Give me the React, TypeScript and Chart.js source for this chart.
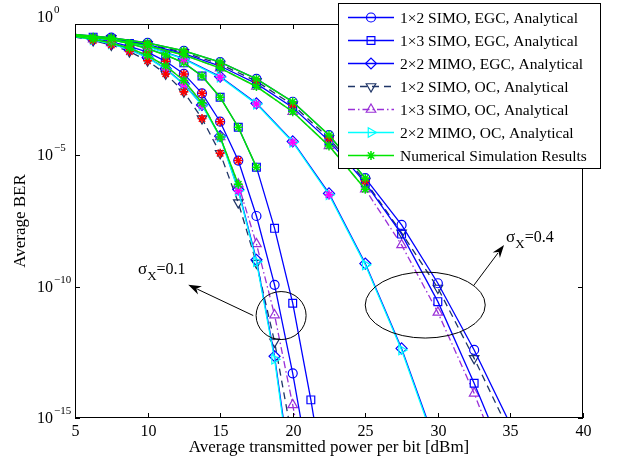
import React, { useEffect, useRef } from "react";
import { Chart, registerables } from "chart.js";

Chart.register(...registerables);

const SERIF = '"Liberation Serif", "Times New Roman", serif';

// Transmit power grids [dBm]
const P_FINE = [5, 6.25, 7.5, 8.75, 10, 11.25, 12.5, 13.75, 15, 16.25, 17.5, 18.75, 20, 21.25, 22.5];
const P_COARSE = [5, 7.5, 10, 12.5, 15, 17.5, 20, 22.5, 25, 27.5, 30, 32.5, 35];

// log10(average BER), sigma_X = 0.1
const EGC_1x2_S01 = [-0.45, -0.55, -0.68, -0.85, -1.07, -1.42, -1.9, -2.64, -3.72, -5.2, -7.31, -9.93, -13.3, -17.2];
const EGC_1x3_S01 = [-0.42, -0.5, -0.6, -0.74, -0.94, -1.18, -1.48, -1.98, -2.79, -3.93, -5.45, -7.78, -10.63, -14.31, -18.5];
const EGC_2x2_S01 = [-0.47, -0.59, -0.75, -0.97, -1.27, -1.7, -2.28, -3.08, -4.27, -6.3, -8.98, -12.65, -17.6];
const OC_1x2_S01 = [-0.5, -0.63, -0.8, -1.05, -1.4, -1.9, -2.58, -3.6, -4.92, -6.8, -9.1, -12.1, -15.9];
const OC_1x3_S01 = [-0.47, -0.58, -0.72, -0.92, -1.2, -1.6, -2.15, -3.0, -4.3, -6.1, -8.37, -11.08, -14.5, -18.3];
const OC_2x2_S01 = [-0.48, -0.6, -0.76, -0.98, -1.28, -1.72, -2.3, -3.1, -4.3, -6.35, -9.05, -12.76, -17.8];

// log10(average BER), sigma_X = 0.4
const EGC_1x2_S04 = [-0.4, -0.52, -0.72, -1.02, -1.45, -2.09, -2.96, -4.23, -5.87, -7.65, -9.87, -12.41, -15.25];
const EGC_1x3_S04 = [-0.42, -0.56, -0.79, -1.13, -1.6, -2.27, -3.18, -4.45, -6.05, -8.0, -10.57, -13.68, -17.0];
const EGC_2x2_S04 = [-0.44, -0.59, -0.85, -1.32, -2.0, -3.02, -4.47, -6.45, -9.12, -12.35, -16.2];
const OC_1x2_S04 = [-0.42, -0.55, -0.77, -1.08, -1.53, -2.18, -3.08, -4.35, -5.98, -7.95, -10.05, -12.73, -15.6];
const OC_1x3_S04 = [-0.43, -0.58, -0.83, -1.18, -1.68, -2.38, -3.34, -4.64, -6.29, -8.41, -10.98, -14.06, -17.6];
const OC_2x2_S04 = [-0.45, -0.6, -0.86, -1.34, -2.03, -3.05, -4.5, -6.5, -9.17, -12.41, -16.3];

// Monte-Carlo simulation points (log10 BER)
const SIM_EGC_1x2_S04 = [-0.4, -0.52, -0.72, -1.02, -1.45, -2.09, -2.96, -4.23, -5.87];
const SIM_OC_1x3_S04 = [-0.43, -0.58, -0.83, -1.18, -1.68, -2.38, -3.34, -4.64, -6.29];
const SIM_OC_1x2_S04 = [-0.42, -0.55, -0.77, -1.08, -1.53, -2.18, -3.08, -4.35, -5.98];
const SIM_OC_2x2_S04 = [-0.45, -0.6, -0.86, -1.34, -2.03, -3.05, -4.5, -6.5];
const SIM_EGC_1x3_S01 = [-0.42, -0.5, -0.6, -0.74, -0.94, -1.18, -1.48, -1.98, -2.79, -3.93, -5.45];
const SIM_OC_1x3_S01 = [-0.47, -0.58, -0.72, -0.92, -1.2, -1.6, -2.15, -3.0, -4.3, -6.1];
const SIM_EGC_1x2_S01 = [-0.45, -0.55, -0.68, -0.85, -1.07, -1.42, -1.9, -2.64, -3.72, -5.2];
const SIM_OC_1x2_S01 = [-0.5, -0.63, -0.8, -1.05, -1.4, -1.9, -2.58, -3.6, -4.92];
const SIM_OC_2x2_S01 = [-0.48, -0.6, -0.76, -0.98, -1.28, -1.72, -2.3, -3.1, -4.3, -6.35];

const X_TICKS = [5, 10, 15, 20, 25, 30, 35, 40];
const Y_DECADES = [0, -5, -10, -15];

const LEGEND_LABELS = [
  "1\u00d72 SIMO, EGC, Analytical",
  "1\u00d73 SIMO, EGC, Analytical",
  "2\u00d72 MIMO, EGC, Analytical",
  "1\u00d72 SIMO, OC, Analytical",
  "1\u00d73 SIMO, OC, Analytical",
  "2\u00d72 MIMO, OC, Analytical",
  "Numerical Simulation Results",
];

const BLUE = "#0000ff";
const NAVY = "#1f3567";
const PURPLE = "#9a30d8";
const CYAN = "#00ffff";
const GREEN = "#00e600";
const RED = "#ff0000";
const MAGENTA = "#ff00ff";

type Style = { color: string; dash: number[]; marker: string; rot: number; r: number };

const ST: Record<string, Style> = {
  egc12: { color: BLUE, dash: [], marker: "circle", rot: 0, r: 4.5 },
  egc13: { color: BLUE, dash: [], marker: "rect", rot: 0, r: 5.5 },
  egc22: { color: BLUE, dash: [], marker: "rectRot", rot: 0, r: 5.5 },
  oc12: { color: NAVY, dash: [7, 5], marker: "triangle", rot: 180, r: 5.5 },
  oc13: { color: PURPLE, dash: [7, 3, 1.5, 3], marker: "triangle", rot: 0, r: 5.5 },
  oc22: { color: CYAN, dash: [], marker: "triangle", rot: 90, r: 5.5 },
  sim: { color: GREEN, dash: [], marker: "star", rot: 0, r: 4.5 },
};
const LEGEND_STYLES = [ST.egc12, ST.egc13, ST.egc22, ST.oc12, ST.oc13, ST.oc22, ST.sim];

const pts = (xs: number[], ys: number[]) => ys.map((y, i) => ({ x: xs[i], y }));

function analytic(label: string, xs: number[], ys: number[], s: Style, order = 2) {
  return {
    label,
    data: pts(xs, ys),
    borderColor: s.color,
    borderWidth: 1.3,
    borderDash: s.dash,
    pointStyle: s.marker,
    rotation: s.rot,
    pointRadius: (c: any) => (c.dataIndex === 0 ? 0 : s.r),
    pointBorderColor: s.color,
    pointBackgroundColor: "rgba(0,0,0,0)",
    pointBorderWidth: 1.2,
    fill: false,
    tension: 0,
    clip: 0,
    order,
  };
}

function simulated(xs: number[], ys: number[], color: string, line: boolean) {
  return {
    label: "sim",
    data: pts(xs, ys),
    borderColor: color,
    borderWidth: 1.5,
    showLine: line,
    pointStyle: "star",
    pointRadius: (c: any) => (c.dataIndex === 0 ? 0 : 4.5),
    pointBorderColor: color,
    pointBorderWidth: 1.5,
    pointBackgroundColor: color,
    fill: false,
    tension: 0,
    clip: 0,
    order: 1,
  };
}

// Marker glyphs for the legend, same geometry as the chart's point styles
function drawMarker(ctx: CanvasRenderingContext2D, s: Style, x: number, y: number) {
  const r = s.r;
  const rad = (s.rot * Math.PI) / 180;
  ctx.beginPath();
  if (s.marker === "circle") {
    ctx.arc(x, y, r, 0, Math.PI * 2);
  } else if (s.marker === "rect") {
    const h = r * Math.SQRT1_2;
    ctx.rect(x - h, y - h, 2 * h, 2 * h);
  } else if (s.marker === "rectRot") {
    ctx.moveTo(x - r, y);
    ctx.lineTo(x, y - r);
    ctx.lineTo(x + r, y);
    ctx.lineTo(x, y + r);
    ctx.closePath();
  } else if (s.marker === "triangle") {
    let a = rad;
    ctx.moveTo(x + Math.sin(a) * r, y - Math.cos(a) * r);
    a += (2 * Math.PI) / 3;
    ctx.lineTo(x + Math.sin(a) * r, y - Math.cos(a) * r);
    a += (2 * Math.PI) / 3;
    ctx.lineTo(x + Math.sin(a) * r, y - Math.cos(a) * r);
    ctx.closePath();
  } else if (s.marker === "star") {
    const d = r * Math.SQRT1_2;
    ctx.moveTo(x - r, y);
    ctx.lineTo(x + r, y);
    ctx.moveTo(x, y - r);
    ctx.lineTo(x, y + r);
    ctx.moveTo(x - d, y - d);
    ctx.lineTo(x + d, y + d);
    ctx.moveTo(x - d, y + d);
    ctx.lineTo(x + d, y - d);
  }
  ctx.stroke();
}

function powerLabel(ctx: CanvasRenderingContext2D, exp: number, x: number, yMid: number) {
  ctx.textAlign = "left";
  ctx.textBaseline = "middle";
  ctx.font = `16px ${SERIF}`;
  ctx.fillText("10", x, yMid);
  const w = ctx.measureText("10").width;
  ctx.font = `11px ${SERIF}`;
  ctx.fillText(exp === 0 ? "0" : `\u2212${-exp}`, x + w + 1, yMid - 7);
}

function sigmaLabel(ctx: CanvasRenderingContext2D, text: string, x: number, base: number) {
  ctx.textAlign = "left";
  ctx.textBaseline = "alphabetic";
  ctx.font = `17px ${SERIF}`;
  ctx.fillText("\u03c3", x, base);
  let cx = x + ctx.measureText("\u03c3").width;
  ctx.font = `13px ${SERIF}`;
  ctx.fillText("X", cx, base + 6);
  cx += ctx.measureText("X").width;
  ctx.font = `16px ${SERIF}`;
  ctx.fillText(text, cx, base);
}

function arrow(ctx: CanvasRenderingContext2D, x0: number, y0: number, x1: number, y1: number) {
  const ang = Math.atan2(y1 - y0, x1 - x0);
  const len = 13;
  const hw = 4.5;
  const bx = x1 - Math.cos(ang) * len;
  const by = y1 - Math.sin(ang) * len;
  ctx.beginPath();
  ctx.moveTo(x0, y0);
  ctx.lineTo(bx + Math.cos(ang) * 3, by + Math.sin(ang) * 3);
  ctx.stroke();
  ctx.beginPath();
  ctx.moveTo(x1, y1);
  ctx.lineTo(bx - Math.sin(ang) * hw, by + Math.cos(ang) * hw);
  ctx.lineTo(bx + Math.cos(ang) * 4, by + Math.sin(ang) * 4);
  ctx.lineTo(bx + Math.sin(ang) * hw, by - Math.cos(ang) * hw);
  ctx.closePath();
  ctx.fill();
}

const axesPlugin = {
  id: "berAxes",
  afterDatasetsDraw(chart: any) {
    const { ctx, chartArea: a, scales } = chart;
    const sx = scales.x;
    const sy = scales.y;
    ctx.save();
    ctx.strokeStyle = "#000";
    ctx.fillStyle = "#000";
    ctx.lineWidth = 1;
    ctx.setLineDash([]);
    ctx.strokeRect(a.left + 0.5, a.top + 0.5, a.right - a.left - 1, a.bottom - a.top - 1);

    // x ticks (inward, top and bottom) and labels
    ctx.font = `16px ${SERIF}`;
    ctx.textAlign = "center";
    ctx.textBaseline = "middle";
    X_TICKS.forEach((v) => {
      const px = Math.round(sx.getPixelForValue(v)) + 0.5;
      ctx.beginPath();
      ctx.moveTo(px, a.bottom);
      ctx.lineTo(px, a.bottom - 5);
      ctx.moveTo(px, a.top);
      ctx.lineTo(px, a.top + 5);
      ctx.stroke();
      ctx.fillText(String(v), px, a.bottom + 14);
    });

    // y decades
    Y_DECADES.forEach((v) => {
      const py = Math.round(sy.getPixelForValue(v)) + 0.5;
      ctx.beginPath();
      ctx.moveTo(a.left, py);
      ctx.lineTo(a.left + 5, py);
      ctx.moveTo(a.right, py);
      ctx.lineTo(a.right - 5, py);
      ctx.stroke();
      powerLabel(ctx, v, 37, v === 0 ? py - 7 : py);
    });

    // axis titles
    ctx.font = `17px ${SERIF}`;
    ctx.textAlign = "center";
    ctx.textBaseline = "middle";
    ctx.fillText("Average transmitted power per bit [dBm]", (a.left + a.right) / 2, a.bottom + 30);
    ctx.save();
    ctx.translate(21, (a.top + a.bottom) / 2);
    ctx.rotate(-Math.PI / 2);
    ctx.fillText("Average BER", 0, 0);
    ctx.restore();

    // sigma_X annotations
    const P = (x: number, y: number) => [sx.getPixelForValue(x), sy.getPixelForValue(y)];
    ctx.lineWidth = 1;
    let [cx, cy] = P(19.2, -11.1);
    ctx.beginPath();
    ctx.ellipse(cx, cy, 25, 24, 0, 0, Math.PI * 2);
    ctx.stroke();
    let [ax0, ay0] = P(17.28, -11.1);
    let [ax1, ay1] = P(12.8, -9.93);
    arrow(ctx, ax0, ay0, ax1, ay1);
    let [tx, ty] = P(9.34, -9.52);
    sigmaLabel(ctx, "=0.1", tx, ty);

    [cx, cy] = P(29.13, -10.7);
    ctx.beginPath();
    ctx.ellipse(cx, cy, 60, 33, 0, 0, Math.PI * 2);
    ctx.stroke();
    [ax0, ay0] = P(32.49, -9.94);
    [ax1, ay1] = P(34.56, -8.41);
    arrow(ctx, ax0, ay0, ax1, ay1);
    [tx, ty] = P(34.7, -8.3);
    sigmaLabel(ctx, "=0.4", tx, ty);
    ctx.restore();
  },
  afterDraw(chart: any) {
    const { ctx } = chart;
    ctx.save();
    const L = 338.5, T = 3.5, W = 262, H = 165;
    ctx.fillStyle = "#fff";
    ctx.fillRect(L, T, W, H);
    ctx.strokeStyle = "#000";
    ctx.lineWidth = 1;
    ctx.setLineDash([]);
    ctx.strokeRect(L, T, W, H);
    ctx.font = `15.5px ${SERIF}`;
    ctx.textAlign = "left";
    ctx.textBaseline = "middle";
    LEGEND_LABELS.forEach((label, i) => {
      const s = LEGEND_STYLES[i];
      const y = 17.5 + i * 23;
      ctx.strokeStyle = s.color;
      ctx.lineWidth = s === ST.sim ? 1.5 : 1.3;
      ctx.setLineDash(s.dash);
      ctx.beginPath();
      ctx.moveTo(348, y);
      ctx.lineTo(394, y);
      ctx.stroke();
      ctx.setLineDash([]);
      ctx.lineWidth = s === ST.sim ? 1.5 : 1.2;
      drawMarker(ctx, s, 371, y);
      ctx.fillStyle = "#000";
      ctx.fillText(label, 400, y + 1);
    });
    ctx.restore();
  },
};

export default function App() {
  const ref = useRef<HTMLCanvasElement>(null);
  useEffect(() => {
    document.body.style.margin = "0";
    const datasets: any[] = [
      // simulation results
      simulated(P_COARSE, SIM_EGC_1x2_S04, GREEN, true),
      simulated(P_COARSE, SIM_OC_1x3_S04, GREEN, true),
      simulated(P_COARSE, SIM_OC_1x2_S04, RED, false),
      simulated(P_COARSE, SIM_OC_2x2_S04, MAGENTA, false),
      simulated(P_FINE, SIM_EGC_1x3_S01, GREEN, true),
      simulated(P_FINE, SIM_OC_1x3_S01, GREEN, true),
      simulated(P_FINE, SIM_EGC_1x2_S01, RED, false),
      simulated(P_FINE, SIM_OC_1x2_S01, RED, false),
      simulated(P_FINE, SIM_OC_2x2_S01, MAGENTA, false),
      // analytical curves, sigma_X = 0.4
      analytic("2\u00d72 OC 0.4", P_COARSE, OC_2x2_S04, ST.oc22, 1.5),
      analytic("1\u00d72 EGC 0.4", P_COARSE, EGC_1x2_S04, ST.egc12),
      analytic("1\u00d73 EGC 0.4", P_COARSE, EGC_1x3_S04, ST.egc13),
      analytic("2\u00d72 EGC 0.4", P_COARSE, EGC_2x2_S04, ST.egc22),
      analytic("1\u00d72 OC 0.4", P_COARSE, OC_1x2_S04, ST.oc12),
      analytic("1\u00d73 OC 0.4", P_COARSE, OC_1x3_S04, ST.oc13),
      // analytical curves, sigma_X = 0.1
      analytic("2\u00d72 OC 0.1", P_FINE, OC_2x2_S01, ST.oc22, 1.5),
      analytic("1\u00d72 EGC 0.1", P_FINE, EGC_1x2_S01, ST.egc12),
      analytic("1\u00d73 EGC 0.1", P_FINE, EGC_1x3_S01, ST.egc13),
      analytic("2\u00d72 EGC 0.1", P_FINE, EGC_2x2_S01, ST.egc22),
      analytic("1\u00d72 OC 0.1", P_FINE, OC_1x2_S01, ST.oc12),
      analytic("1\u00d73 OC 0.1", P_FINE, OC_1x3_S01, ST.oc13),
    ];
    const chart = new Chart(ref.current!, {
      type: "line",
      data: { datasets },
      options: {
        responsive: false,
        animation: false,
        devicePixelRatio: 1,
        layout: { padding: { left: 75, top: 24, right: 36, bottom: 46 } },
        scales: {
          x: { type: "linear", min: 5, max: 40, display: false },
          y: { type: "linear", min: -15, max: 0, display: false },
        },
        plugins: { legend: { display: false }, tooltip: { enabled: false } },
      },
      plugins: [axesPlugin],
    } as any);
    return () => chart.destroy();
  }, []);
  return (
    <div style={{ width: 619, height: 464, background: "#fff" }}>
      <canvas ref={ref} width={619} height={464} style={{ display: "block", width: 619, height: 464 }} />
    </div>
  );
}
